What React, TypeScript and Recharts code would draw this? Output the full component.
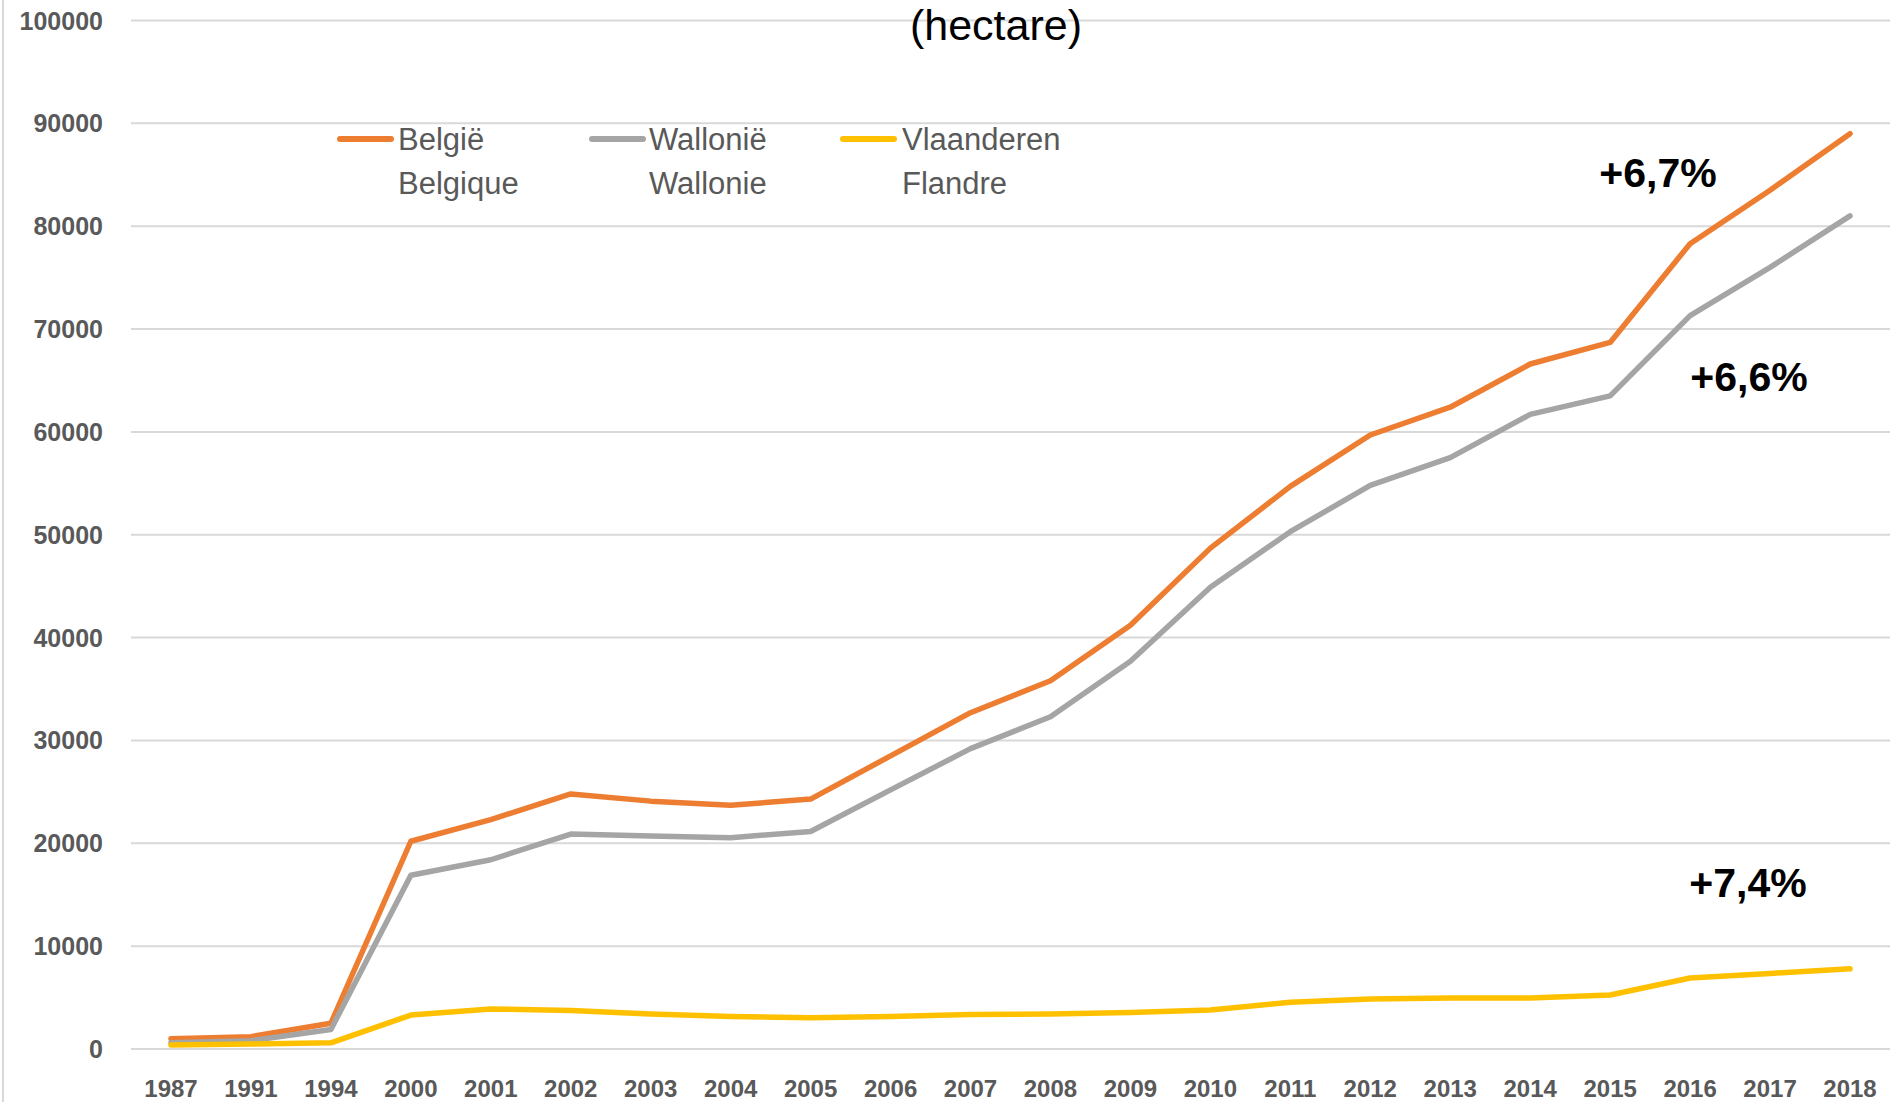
import React from 'react';
import { LineChart, Line, XAxis, YAxis, CartesianGrid } from 'recharts';

const years = ['1987', '1991', '1994', '2000', '2001', '2002', '2003', '2004', '2005', '2006', '2007', '2008', '2009', '2010', '2011', '2012', '2013', '2014', '2015', '2016', '2017', '2018'];
const belgique = [1000, 1200, 2500, 20200, 22300, 24800, 24100, 23700, 24300, 28500, 32700, 35800, 41200, 48700, 54700, 59700, 62400, 66600, 68700, 78300, 83500, 89000];
const wallonie = [600, 800, 1900, 16900, 18400, 20900, 20700, 20550, 21150, 25200, 29200, 32300, 37700, 44900, 50300, 54800, 57500, 61700, 63500, 71300, 76000, 81000];
const vlaanderen = [400, 480, 600, 3300, 3900, 3750, 3400, 3150, 3050, 3150, 3350, 3400, 3550, 3800, 4550, 4850, 4950, 4950, 5250, 6900, 7350, 7800];
const yTicks = [0, 10000, 20000, 30000, 40000, 50000, 60000, 70000, 80000, 90000, 100000];

const seriesKeys = ['be', 'wa', 'vl'];
const seriesColors = ['#ED7D31', '#A5A5A5', '#FFC000'];
const legendLine1 = ['België', 'Wallonië', 'Vlaanderen'];
const legendLine2 = ['Belgique', 'Wallonie', 'Flandre'];
const growthLabels = ['+6,7%', '+6,6%', '+7,4%'];

const data = years.map((y, i) => ({ year: y, be: belgique[i], wa: wallonie[i], vl: vlaanderen[i] }));

const FONT = '"Liberation Sans", Arial, sans-serif';

const YTick = (props: any) => {
  const { y, payload } = props;
  return (
    <text x={103} y={y} dy={9} textAnchor="end" fontFamily={FONT} fontWeight="bold" fontSize={25} fill="#595959">
      {payload.value}
    </text>
  );
};

const XTick = (props: any) => {
  const { x, payload } = props;
  return (
    <text x={x} y={1097} textAnchor="middle" fontFamily={FONT} fontWeight="bold" fontSize={24} fill="#595959">
      {payload.value}
    </text>
  );
};

const legendMarkerX = [340, 592, 843];
const legendTextX = [398, 649, 902];
const growthPos = [
  [1658, 187],
  [1749, 391],
  [1748, 897],
];

export default function App() {
  return (
    <div style={{ position: 'absolute', left: 0, top: 0, width: 1895, height: 1102, overflow: 'hidden', background: '#fff' }}>
      <LineChart width={1895} height={1102} data={data} margin={{ top: 20.5, right: 5, bottom: 0, left: 0 }}>
        <CartesianGrid vertical={false} stroke="#D9D9D9" strokeWidth={2} />
        <XAxis
          dataKey="year"
          padding={{ left: 40, right: 40 }}
          height={53}
          axisLine={{ stroke: '#D9D9D9', strokeWidth: 2 }}
          tickLine={false}
          tick={<XTick />}
          interval={0}
        />
        <YAxis
          domain={[0, 100000]}
          ticks={yTicks}
          width={131}
          axisLine={false}
          tickLine={false}
          tick={<YTick />}
          interval={0}
        />
        {seriesKeys.map((k, i) => (
          <Line
            key={k}
            type="linear"
            dataKey={k}
            stroke={seriesColors[i]}
            strokeWidth={5.5}
            dot={false}
            activeDot={false}
            strokeLinecap="round"
            strokeLinejoin="round"
            isAnimationActive={false}
          />
        ))}
      </LineChart>
      <svg width={1895} height={1102} style={{ position: 'absolute', left: 0, top: 0, pointerEvents: 'none' }}>
        <line x1={3} y1={0} x2={3} y2={1102} stroke="#D9D9D9" strokeWidth={2} />
        <text x={996} y={40} textAnchor="middle" fontFamily={FONT} fontSize={43} fill="#000">
          (hectare)
        </text>
        {seriesKeys.map((k, i) => (
          <g key={k}>
            <line x1={legendMarkerX[i]} y1={139} x2={legendMarkerX[i] + 51} y2={139} stroke={seriesColors[i]} strokeWidth={6} strokeLinecap="round" />
            <text x={legendTextX[i]} y={150} fontFamily={FONT} fontSize={31} fill="#595959">
              {legendLine1[i]}
            </text>
            <text x={legendTextX[i]} y={194} fontFamily={FONT} fontSize={31} fill="#595959">
              {legendLine2[i]}
            </text>
          </g>
        ))}
        {growthLabels.map((t, i) => (
          <text key={t} x={growthPos[i][0]} y={growthPos[i][1]} textAnchor="middle" fontFamily={FONT} fontWeight="bold" fontSize={41} fill="#000">
            {t}
          </text>
        ))}
      </svg>
    </div>
  );
}
